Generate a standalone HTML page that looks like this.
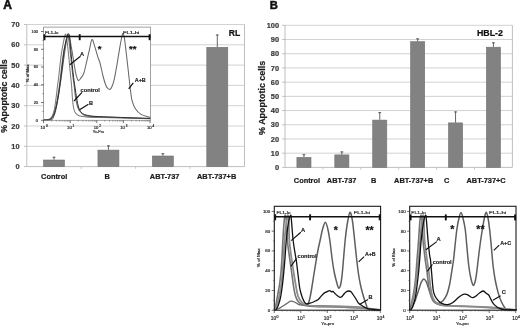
<!DOCTYPE html>
<html><head><meta charset="utf-8"><style>
html,body{margin:0;padding:0;background:#fff;}
body{width:520px;height:327px;overflow:hidden;}
svg{display:block;font-family:"Liberation Sans", sans-serif;will-change:transform;}
</style></head><body>
<svg width="520" height="327" viewBox="0 0 520 327">
<rect width="520" height="327" fill="#fff"/>
<text x="3.18" y="8.64" font-size="12.00" font-weight="bold" fill="#111" stroke="#111" stroke-width="0.55">A</text>
<text x="269.86" y="8.96" font-size="11.20" font-weight="bold" fill="#111" stroke="#111" stroke-width="0.5">B</text>
<line x1="24.00" y1="166.60" x2="26.80" y2="166.60" stroke="#b8b8b8" stroke-width="0.90"/>
<text x="15.39" y="169.25" font-size="7.40" font-weight="bold" fill="#3a3a3a" stroke="#3a3a3a" stroke-width="0.22">0</text>
<line x1="26.80" y1="146.30" x2="244.50" y2="146.30" stroke="#cdcdcd" stroke-width="0.90"/>
<line x1="24.00" y1="146.30" x2="26.80" y2="146.30" stroke="#b8b8b8" stroke-width="0.90"/>
<text x="11.28" y="148.95" font-size="7.40" font-weight="bold" fill="#3a3a3a" stroke="#3a3a3a" stroke-width="0.22">10</text>
<line x1="26.80" y1="126.00" x2="244.50" y2="126.00" stroke="#cdcdcd" stroke-width="0.90"/>
<line x1="24.00" y1="126.00" x2="26.80" y2="126.00" stroke="#b8b8b8" stroke-width="0.90"/>
<text x="11.28" y="128.65" font-size="7.40" font-weight="bold" fill="#3a3a3a" stroke="#3a3a3a" stroke-width="0.22">20</text>
<line x1="26.80" y1="105.70" x2="244.50" y2="105.70" stroke="#cdcdcd" stroke-width="0.90"/>
<line x1="24.00" y1="105.70" x2="26.80" y2="105.70" stroke="#b8b8b8" stroke-width="0.90"/>
<text x="11.28" y="108.35" font-size="7.40" font-weight="bold" fill="#3a3a3a" stroke="#3a3a3a" stroke-width="0.22">30</text>
<line x1="26.80" y1="85.40" x2="244.50" y2="85.40" stroke="#cdcdcd" stroke-width="0.90"/>
<line x1="24.00" y1="85.40" x2="26.80" y2="85.40" stroke="#b8b8b8" stroke-width="0.90"/>
<text x="11.28" y="88.05" font-size="7.40" font-weight="bold" fill="#3a3a3a" stroke="#3a3a3a" stroke-width="0.22">40</text>
<line x1="26.80" y1="65.10" x2="244.50" y2="65.10" stroke="#cdcdcd" stroke-width="0.90"/>
<line x1="24.00" y1="65.10" x2="26.80" y2="65.10" stroke="#b8b8b8" stroke-width="0.90"/>
<text x="11.28" y="67.75" font-size="7.40" font-weight="bold" fill="#3a3a3a" stroke="#3a3a3a" stroke-width="0.22">50</text>
<line x1="26.80" y1="44.80" x2="244.50" y2="44.80" stroke="#cdcdcd" stroke-width="0.90"/>
<line x1="24.00" y1="44.80" x2="26.80" y2="44.80" stroke="#b8b8b8" stroke-width="0.90"/>
<text x="11.28" y="47.45" font-size="7.40" font-weight="bold" fill="#3a3a3a" stroke="#3a3a3a" stroke-width="0.22">60</text>
<line x1="26.80" y1="24.50" x2="244.50" y2="24.50" stroke="#cdcdcd" stroke-width="0.90"/>
<line x1="24.00" y1="24.50" x2="26.80" y2="24.50" stroke="#b8b8b8" stroke-width="0.90"/>
<text x="11.28" y="27.15" font-size="7.40" font-weight="bold" fill="#3a3a3a" stroke="#3a3a3a" stroke-width="0.22">70</text>
<line x1="26.80" y1="24.50" x2="26.80" y2="166.60" stroke="#b8b8b8" stroke-width="0.90"/>
<line x1="244.50" y1="24.50" x2="244.50" y2="166.60" stroke="#b8b8b8" stroke-width="0.90"/>
<line x1="26.80" y1="166.60" x2="244.50" y2="166.60" stroke="#b8b8b8" stroke-width="0.90"/>
<line x1="81.22" y1="166.60" x2="81.22" y2="168.80" stroke="#b8b8b8" stroke-width="0.80"/>
<line x1="135.65" y1="166.60" x2="135.65" y2="168.80" stroke="#b8b8b8" stroke-width="0.80"/>
<line x1="190.07" y1="166.60" x2="190.07" y2="168.80" stroke="#b8b8b8" stroke-width="0.80"/>
<rect x="43.51" y="160.00" width="21.00" height="6.60" fill="#828282" stroke="#707070" stroke-width="0.6"/>
<line x1="54.01" y1="156.80" x2="54.01" y2="159.70" stroke="#555" stroke-width="0.90"/>
<line x1="52.61" y1="157.25" x2="55.41" y2="157.25" stroke="#555" stroke-width="1.00"/>
<rect x="97.94" y="150.10" width="21.00" height="16.50" fill="#828282" stroke="#707070" stroke-width="0.6"/>
<line x1="108.44" y1="145.40" x2="108.44" y2="149.80" stroke="#555" stroke-width="0.90"/>
<line x1="107.04" y1="145.85" x2="109.84" y2="145.85" stroke="#555" stroke-width="1.00"/>
<rect x="152.36" y="156.00" width="21.00" height="10.60" fill="#828282" stroke="#707070" stroke-width="0.6"/>
<line x1="162.86" y1="153.30" x2="162.86" y2="155.70" stroke="#555" stroke-width="0.90"/>
<line x1="161.46" y1="153.75" x2="164.26" y2="153.75" stroke="#555" stroke-width="1.00"/>
<rect x="206.79" y="47.30" width="21.00" height="119.30" fill="#828282" stroke="#707070" stroke-width="0.6"/>
<line x1="217.29" y1="34.60" x2="217.29" y2="47.00" stroke="#555" stroke-width="0.90"/>
<line x1="215.89" y1="35.05" x2="218.69" y2="35.05" stroke="#555" stroke-width="1.00"/>
<text x="41.06" y="178.65" font-size="7.40" font-weight="bold" fill="#1c1c1c" stroke="#1c1c1c" stroke-width="0.22">Control</text>
<text x="104.56" y="178.55" font-size="7.40" font-weight="bold" fill="#1c1c1c" stroke="#1c1c1c" stroke-width="0.22">B</text>
<text x="149.86" y="178.55" font-size="7.40" font-weight="bold" fill="#1c1c1c" stroke="#1c1c1c" stroke-width="0.22">ABT-737</text>
<text x="197.00" y="178.55" font-size="7.40" font-weight="bold" fill="#1c1c1c" stroke="#1c1c1c" stroke-width="0.22">ABT-737+B</text>
<text x="228.83" y="35.72" font-size="8.60" font-weight="bold" fill="#111" stroke="#111" stroke-width="0.22">RL</text>
<text transform="translate(6.88 132.79) rotate(-90)" font-size="8.85" font-weight="bold" fill="#1c1c1c" stroke="#1c1c1c" stroke-width="0.22">% Apoptotic cells</text>
<line x1="282.20" y1="167.40" x2="285.00" y2="167.40" stroke="#b8b8b8" stroke-width="0.90"/>
<text x="274.89" y="170.05" font-size="7.40" font-weight="bold" fill="#3a3a3a" stroke="#3a3a3a" stroke-width="0.22">0</text>
<line x1="285.00" y1="153.19" x2="512.40" y2="153.19" stroke="#cdcdcd" stroke-width="0.90"/>
<line x1="282.20" y1="153.19" x2="285.00" y2="153.19" stroke="#b8b8b8" stroke-width="0.90"/>
<text x="270.78" y="155.84" font-size="7.40" font-weight="bold" fill="#3a3a3a" stroke="#3a3a3a" stroke-width="0.22">10</text>
<line x1="285.00" y1="138.98" x2="512.40" y2="138.98" stroke="#cdcdcd" stroke-width="0.90"/>
<line x1="282.20" y1="138.98" x2="285.00" y2="138.98" stroke="#b8b8b8" stroke-width="0.90"/>
<text x="270.78" y="141.63" font-size="7.40" font-weight="bold" fill="#3a3a3a" stroke="#3a3a3a" stroke-width="0.22">20</text>
<line x1="285.00" y1="124.77" x2="512.40" y2="124.77" stroke="#cdcdcd" stroke-width="0.90"/>
<line x1="282.20" y1="124.77" x2="285.00" y2="124.77" stroke="#b8b8b8" stroke-width="0.90"/>
<text x="270.78" y="127.42" font-size="7.40" font-weight="bold" fill="#3a3a3a" stroke="#3a3a3a" stroke-width="0.22">30</text>
<line x1="285.00" y1="110.56" x2="512.40" y2="110.56" stroke="#cdcdcd" stroke-width="0.90"/>
<line x1="282.20" y1="110.56" x2="285.00" y2="110.56" stroke="#b8b8b8" stroke-width="0.90"/>
<text x="270.78" y="113.21" font-size="7.40" font-weight="bold" fill="#3a3a3a" stroke="#3a3a3a" stroke-width="0.22">40</text>
<line x1="285.00" y1="96.35" x2="512.40" y2="96.35" stroke="#cdcdcd" stroke-width="0.90"/>
<line x1="282.20" y1="96.35" x2="285.00" y2="96.35" stroke="#b8b8b8" stroke-width="0.90"/>
<text x="270.78" y="99.00" font-size="7.40" font-weight="bold" fill="#3a3a3a" stroke="#3a3a3a" stroke-width="0.22">50</text>
<line x1="285.00" y1="82.14" x2="512.40" y2="82.14" stroke="#cdcdcd" stroke-width="0.90"/>
<line x1="282.20" y1="82.14" x2="285.00" y2="82.14" stroke="#b8b8b8" stroke-width="0.90"/>
<text x="270.78" y="84.79" font-size="7.40" font-weight="bold" fill="#3a3a3a" stroke="#3a3a3a" stroke-width="0.22">60</text>
<line x1="285.00" y1="67.93" x2="512.40" y2="67.93" stroke="#cdcdcd" stroke-width="0.90"/>
<line x1="282.20" y1="67.93" x2="285.00" y2="67.93" stroke="#b8b8b8" stroke-width="0.90"/>
<text x="270.78" y="70.58" font-size="7.40" font-weight="bold" fill="#3a3a3a" stroke="#3a3a3a" stroke-width="0.22">70</text>
<line x1="285.00" y1="53.72" x2="512.40" y2="53.72" stroke="#cdcdcd" stroke-width="0.90"/>
<line x1="282.20" y1="53.72" x2="285.00" y2="53.72" stroke="#b8b8b8" stroke-width="0.90"/>
<text x="270.78" y="56.37" font-size="7.40" font-weight="bold" fill="#3a3a3a" stroke="#3a3a3a" stroke-width="0.22">80</text>
<line x1="285.00" y1="39.51" x2="512.40" y2="39.51" stroke="#cdcdcd" stroke-width="0.90"/>
<line x1="282.20" y1="39.51" x2="285.00" y2="39.51" stroke="#b8b8b8" stroke-width="0.90"/>
<text x="270.78" y="42.16" font-size="7.40" font-weight="bold" fill="#3a3a3a" stroke="#3a3a3a" stroke-width="0.22">90</text>
<line x1="285.00" y1="25.30" x2="512.40" y2="25.30" stroke="#cdcdcd" stroke-width="0.90"/>
<line x1="282.20" y1="25.30" x2="285.00" y2="25.30" stroke="#b8b8b8" stroke-width="0.90"/>
<text x="266.68" y="27.95" font-size="7.40" font-weight="bold" fill="#3a3a3a" stroke="#3a3a3a" stroke-width="0.22">100</text>
<line x1="285.00" y1="25.30" x2="285.00" y2="167.40" stroke="#b8b8b8" stroke-width="0.90"/>
<line x1="512.40" y1="25.30" x2="512.40" y2="167.40" stroke="#b8b8b8" stroke-width="0.90"/>
<line x1="285.00" y1="167.40" x2="512.40" y2="167.40" stroke="#b8b8b8" stroke-width="0.90"/>
<line x1="322.90" y1="167.40" x2="322.90" y2="169.60" stroke="#b8b8b8" stroke-width="0.80"/>
<line x1="360.80" y1="167.40" x2="360.80" y2="169.60" stroke="#b8b8b8" stroke-width="0.80"/>
<line x1="398.70" y1="167.40" x2="398.70" y2="169.60" stroke="#b8b8b8" stroke-width="0.80"/>
<line x1="436.60" y1="167.40" x2="436.60" y2="169.60" stroke="#b8b8b8" stroke-width="0.80"/>
<line x1="474.50" y1="167.40" x2="474.50" y2="169.60" stroke="#b8b8b8" stroke-width="0.80"/>
<rect x="296.90" y="157.40" width="14.10" height="10.00" fill="#828282" stroke="#707070" stroke-width="0.6"/>
<line x1="303.95" y1="154.30" x2="303.95" y2="157.10" stroke="#555" stroke-width="0.90"/>
<line x1="302.55" y1="154.75" x2="305.35" y2="154.75" stroke="#555" stroke-width="1.00"/>
<rect x="334.80" y="154.90" width="14.10" height="12.50" fill="#828282" stroke="#707070" stroke-width="0.6"/>
<line x1="341.85" y1="151.50" x2="341.85" y2="154.60" stroke="#555" stroke-width="0.90"/>
<line x1="340.45" y1="151.95" x2="343.25" y2="151.95" stroke="#555" stroke-width="1.00"/>
<rect x="372.70" y="120.10" width="14.10" height="47.30" fill="#828282" stroke="#707070" stroke-width="0.6"/>
<line x1="379.75" y1="112.20" x2="379.75" y2="119.80" stroke="#555" stroke-width="0.90"/>
<line x1="378.35" y1="112.65" x2="381.15" y2="112.65" stroke="#555" stroke-width="1.00"/>
<rect x="410.60" y="41.70" width="14.10" height="125.70" fill="#828282" stroke="#707070" stroke-width="0.6"/>
<line x1="417.65" y1="38.40" x2="417.65" y2="41.40" stroke="#555" stroke-width="0.90"/>
<line x1="416.25" y1="38.85" x2="419.05" y2="38.85" stroke="#555" stroke-width="1.00"/>
<rect x="448.50" y="122.90" width="14.10" height="44.50" fill="#828282" stroke="#707070" stroke-width="0.6"/>
<line x1="455.55" y1="111.50" x2="455.55" y2="122.60" stroke="#555" stroke-width="0.90"/>
<line x1="454.15" y1="111.95" x2="456.95" y2="111.95" stroke="#555" stroke-width="1.00"/>
<rect x="486.40" y="47.20" width="14.10" height="120.20" fill="#828282" stroke="#707070" stroke-width="0.6"/>
<line x1="493.45" y1="42.40" x2="493.45" y2="46.90" stroke="#555" stroke-width="0.90"/>
<line x1="492.05" y1="42.85" x2="494.85" y2="42.85" stroke="#555" stroke-width="1.00"/>
<text x="293.81" y="183.40" font-size="7.40" font-weight="bold" fill="#1c1c1c" stroke="#1c1c1c" stroke-width="0.22">Control</text>
<text x="326.86" y="183.30" font-size="7.40" font-weight="bold" fill="#1c1c1c" stroke="#1c1c1c" stroke-width="0.22">ABT-737</text>
<text x="371.06" y="183.30" font-size="7.40" font-weight="bold" fill="#1c1c1c" stroke="#1c1c1c" stroke-width="0.22">B</text>
<text x="394.05" y="183.30" font-size="7.40" font-weight="bold" fill="#1c1c1c" stroke="#1c1c1c" stroke-width="0.22">ABT-737+B</text>
<text x="443.88" y="183.30" font-size="7.40" font-weight="bold" fill="#1c1c1c" stroke="#1c1c1c" stroke-width="0.22">C</text>
<text x="466.47" y="183.30" font-size="7.40" font-weight="bold" fill="#1c1c1c" stroke="#1c1c1c" stroke-width="0.22">ABT-737+C</text>
<text x="477.03" y="35.88" font-size="8.80" font-weight="bold" fill="#111" stroke="#111" stroke-width="0.22">HBL-2</text>
<text transform="translate(264.90 134.95) rotate(-90)" font-size="8.95" font-weight="bold" fill="#1c1c1c" stroke="#1c1c1c" stroke-width="0.22">% Apoptotic cells</text>
<rect x="274.30" y="206.30" width="106.30" height="103.90" fill="#fff"/>
<path d="M275.50 309.60 C276.18 309.37 278.35 308.80 279.60 308.20 C280.85 307.60 281.88 306.72 283.00 306.00 C284.12 305.28 285.02 304.72 286.30 303.90 C287.58 303.08 289.23 301.37 290.70 301.10 C292.17 300.83 293.83 301.77 295.10 302.30 C296.37 302.83 297.15 303.83 298.30 304.30 C299.45 304.77 300.05 304.88 302.00 305.10 C303.95 305.32 306.17 305.48 310.00 305.60 C313.83 305.72 320.00 305.67 325.00 305.80 C330.00 305.93 335.00 306.17 340.00 306.40 C345.00 306.63 350.83 306.93 355.00 307.20 C359.17 307.47 362.17 307.63 365.00 308.00 C367.83 308.37 369.50 309.10 372.00 309.40 C374.50 309.70 378.67 309.73 380.00 309.80" fill="none" stroke="#6a6a6a" stroke-width="1.30" stroke-linejoin="round" stroke-linecap="round"/>
<path d="M305.00 305.00 C305.47 304.87 307.03 305.12 307.80 304.20 C308.57 303.28 308.97 302.03 309.60 299.50 C310.23 296.97 310.90 293.08 311.60 289.00 C312.30 284.92 313.02 279.90 313.80 275.00 C314.58 270.10 315.57 263.93 316.30 259.60 C317.03 255.27 317.55 252.27 318.20 249.00 C318.85 245.73 319.47 243.33 320.20 240.00 C320.93 236.67 321.75 231.97 322.60 229.00 C323.45 226.03 324.47 222.37 325.30 222.20 C326.13 222.03 326.85 225.03 327.60 228.00 C328.35 230.97 329.07 235.00 329.80 240.00 C330.53 245.00 331.27 252.67 332.00 258.00 C332.73 263.33 333.43 268.00 334.20 272.00 C334.97 276.00 335.83 279.30 336.60 282.00 C337.37 284.70 338.08 287.95 338.80 288.20 C339.52 288.45 340.30 286.20 340.90 283.50 C341.50 280.80 341.95 276.25 342.40 272.00 C342.85 267.75 343.10 263.67 343.60 258.00 C344.10 252.33 344.73 244.00 345.40 238.00 C346.07 232.00 346.83 226.28 347.60 222.00 C348.37 217.72 349.22 212.63 350.00 212.30 C350.78 211.97 351.60 216.05 352.30 220.00 C353.00 223.95 353.52 229.83 354.20 236.00 C354.88 242.17 355.68 250.67 356.40 257.00 C357.12 263.33 357.82 269.33 358.50 274.00 C359.18 278.67 359.83 281.83 360.50 285.00 C361.17 288.17 361.82 290.50 362.50 293.00 C363.18 295.50 363.93 297.92 364.60 300.00 C365.27 302.08 365.85 304.00 366.50 305.50 C367.15 307.00 366.25 308.27 368.50 309.00 C370.75 309.73 378.08 309.75 380.00 309.90" fill="none" stroke="#5e5e5e" stroke-width="1.50" stroke-linejoin="round" stroke-linecap="round"/>
<path d="M274.60 309.60 C274.73 309.25 275.03 309.10 275.40 307.50 C275.77 305.90 276.33 302.58 276.80 300.00 C277.27 297.42 277.73 294.67 278.20 292.00 C278.67 289.33 279.13 287.33 279.60 284.00 C280.07 280.67 280.60 276.33 281.00 272.00 C281.40 267.67 281.68 263.33 282.00 258.00 C282.32 252.67 282.55 246.00 282.90 240.00 C283.25 234.00 283.72 226.13 284.10 222.00 C284.48 217.87 284.83 215.53 285.20 215.20 C285.57 214.87 285.95 215.87 286.30 220.00 C286.65 224.13 286.75 233.67 287.30 240.00 C287.85 246.33 288.88 252.67 289.60 258.00 C290.32 263.33 290.95 267.33 291.60 272.00 C292.25 276.67 292.85 282.00 293.50 286.00 C294.15 290.00 294.67 293.33 295.50 296.00 C296.33 298.67 297.25 300.50 298.50 302.00 C299.75 303.50 301.08 304.28 303.00 305.00 C304.92 305.72 306.33 306.00 310.00 306.30 C313.67 306.60 319.17 306.63 325.00 306.80 C330.83 306.97 339.17 307.12 345.00 307.30 C350.83 307.48 355.83 307.62 360.00 307.90 C364.17 308.18 366.67 308.68 370.00 309.00 C373.33 309.32 378.33 309.67 380.00 309.80" fill="none" stroke="#747474" stroke-width="1.60" stroke-linejoin="round" stroke-linecap="round"/>
<path d="M275.20 309.60 C275.40 309.00 275.87 307.60 276.40 306.00 C276.93 304.40 277.80 302.33 278.40 300.00 C279.00 297.67 279.52 294.67 280.00 292.00 C280.48 289.33 280.87 287.33 281.30 284.00 C281.73 280.67 282.22 276.33 282.60 272.00 C282.98 267.67 283.28 263.33 283.60 258.00 C283.92 252.67 284.02 246.00 284.50 240.00 C284.98 234.00 285.95 226.13 286.50 222.00 C287.05 217.87 287.42 215.53 287.80 215.20 C288.18 214.87 288.55 215.87 288.80 220.00 C289.05 224.13 288.85 233.67 289.30 240.00 C289.75 246.33 290.78 252.67 291.50 258.00 C292.22 263.33 292.87 267.33 293.60 272.00 C294.33 276.67 295.17 282.00 295.90 286.00 C296.63 290.00 297.07 293.33 298.00 296.00 C298.93 298.67 300.17 300.50 301.50 302.00 C302.83 303.50 303.75 304.33 306.00 305.00 C308.25 305.67 310.17 305.77 315.00 306.00 C319.83 306.23 328.33 306.23 335.00 306.40 C341.67 306.57 349.50 306.67 355.00 307.00 C360.50 307.33 363.83 307.93 368.00 308.40 C372.17 308.87 378.00 309.57 380.00 309.80" fill="none" stroke="#8c8c8c" stroke-width="1.80" stroke-linejoin="round" stroke-linecap="round"/>
<path d="M276.00 309.60 C276.33 309.00 277.27 307.93 278.00 306.00 C278.73 304.07 279.68 301.33 280.40 298.00 C281.12 294.67 281.73 290.33 282.30 286.00 C282.87 281.67 283.35 276.67 283.80 272.00 C284.25 267.33 284.58 263.33 285.00 258.00 C285.42 252.67 285.70 246.00 286.30 240.00 C286.90 234.00 287.87 226.13 288.60 222.00 C289.33 217.87 290.23 215.53 290.70 215.20 C291.17 214.87 291.00 215.87 291.40 220.00 C291.80 224.13 292.42 234.00 293.10 240.00 C293.78 246.00 294.93 252.33 295.50 256.00 C296.07 259.67 296.05 258.67 296.50 262.00 C296.95 265.33 297.72 272.00 298.20 276.00 C298.68 280.00 299.00 283.33 299.40 286.00 C299.80 288.67 300.08 290.00 300.60 292.00 C301.12 294.00 301.83 296.27 302.50 298.00 C303.17 299.73 303.92 301.43 304.60 302.40 C305.28 303.37 305.70 303.68 306.60 303.80 C307.50 303.92 308.88 303.40 310.00 303.10 C311.12 302.80 312.30 302.38 313.30 302.00 C314.30 301.62 315.13 301.27 316.00 300.80 C316.87 300.33 317.67 299.93 318.50 299.20 C319.33 298.47 320.13 297.37 321.00 296.40 C321.87 295.43 322.87 294.10 323.70 293.40 C324.53 292.70 325.35 292.53 326.00 292.20 C326.65 291.87 326.97 291.65 327.60 291.40 C328.23 291.15 329.15 290.63 329.80 290.70 C330.45 290.77 330.97 291.68 331.50 291.80 C332.03 291.92 332.42 291.12 333.00 291.40 C333.58 291.68 334.25 292.77 335.00 293.50 C335.75 294.23 336.65 295.15 337.50 295.80 C338.35 296.45 339.35 297.28 340.10 297.40 C340.85 297.52 341.35 297.07 342.00 296.50 C342.65 295.93 343.33 294.75 344.00 294.00 C344.67 293.25 345.20 292.50 346.00 292.00 C346.80 291.50 347.97 291.03 348.80 291.00 C349.63 290.97 350.30 291.22 351.00 291.80 C351.70 292.38 352.22 293.38 353.00 294.50 C353.78 295.62 354.82 297.12 355.70 298.50 C356.58 299.88 357.42 301.72 358.30 302.80 C359.18 303.88 359.98 304.28 361.00 305.00 C362.02 305.72 363.12 306.45 364.40 307.10 C365.68 307.75 366.93 308.48 368.70 308.90 C370.47 309.32 373.12 309.45 375.00 309.60 C376.88 309.75 379.17 309.77 380.00 309.80" fill="none" stroke="#111" stroke-width="1.30" stroke-linejoin="round" stroke-linecap="round"/>
<rect x="274.30" y="206.30" width="106.30" height="103.90" fill="none" stroke="#1a1a1a" stroke-width="1.10"/>
<line x1="271.70" y1="310.20" x2="274.30" y2="310.20" stroke="#333" stroke-width="0.70"/>
<text stroke="#2e2e2e" stroke-width="0.20" x="267.81" y="311.72" font-size="4.40" fill="#2e2e2e">0</text>
<line x1="271.70" y1="290.44" x2="274.30" y2="290.44" stroke="#333" stroke-width="0.70"/>
<text stroke="#2e2e2e" stroke-width="0.20" x="265.37" y="291.96" font-size="4.40" fill="#2e2e2e">20</text>
<line x1="271.70" y1="270.68" x2="274.30" y2="270.68" stroke="#333" stroke-width="0.70"/>
<text stroke="#2e2e2e" stroke-width="0.20" x="265.37" y="272.20" font-size="4.40" fill="#2e2e2e">40</text>
<line x1="271.70" y1="250.92" x2="274.30" y2="250.92" stroke="#333" stroke-width="0.70"/>
<text stroke="#2e2e2e" stroke-width="0.20" x="265.37" y="252.44" font-size="4.40" fill="#2e2e2e">60</text>
<line x1="271.70" y1="231.16" x2="274.30" y2="231.16" stroke="#333" stroke-width="0.70"/>
<text stroke="#2e2e2e" stroke-width="0.20" x="265.37" y="232.68" font-size="4.40" fill="#2e2e2e">80</text>
<line x1="271.70" y1="211.40" x2="274.30" y2="211.40" stroke="#333" stroke-width="0.70"/>
<text stroke="#2e2e2e" stroke-width="0.20" x="262.93" y="212.92" font-size="4.40" fill="#2e2e2e">100</text>
<line x1="272.90" y1="300.32" x2="274.30" y2="300.32" stroke="#444" stroke-width="0.50"/>
<line x1="272.90" y1="280.56" x2="274.30" y2="280.56" stroke="#444" stroke-width="0.50"/>
<line x1="272.90" y1="260.80" x2="274.30" y2="260.80" stroke="#444" stroke-width="0.50"/>
<line x1="272.90" y1="241.04" x2="274.30" y2="241.04" stroke="#444" stroke-width="0.50"/>
<line x1="272.90" y1="221.28" x2="274.30" y2="221.28" stroke="#444" stroke-width="0.50"/>
<line x1="274.30" y1="310.20" x2="274.30" y2="313.00" stroke="#333" stroke-width="0.70"/>
<text stroke="#2e2e2e" stroke-width="0.20" x="270.82" y="320.37" font-size="4.84" fill="#2e2e2e">10</text>
<text stroke="#2e2e2e" stroke-width="0.20" x="276.52" y="318.20" font-size="3.48" fill="#2e2e2e">0</text>
<line x1="282.28" y1="310.20" x2="282.28" y2="311.60" stroke="#444" stroke-width="0.45"/>
<line x1="286.94" y1="310.20" x2="286.94" y2="311.60" stroke="#444" stroke-width="0.45"/>
<line x1="290.25" y1="310.20" x2="290.25" y2="311.60" stroke="#444" stroke-width="0.45"/>
<line x1="292.82" y1="310.20" x2="292.82" y2="311.60" stroke="#444" stroke-width="0.45"/>
<line x1="294.92" y1="310.20" x2="294.92" y2="311.60" stroke="#444" stroke-width="0.45"/>
<line x1="296.70" y1="310.20" x2="296.70" y2="311.60" stroke="#444" stroke-width="0.45"/>
<line x1="298.23" y1="310.20" x2="298.23" y2="311.60" stroke="#444" stroke-width="0.45"/>
<line x1="299.59" y1="310.20" x2="299.59" y2="311.60" stroke="#444" stroke-width="0.45"/>
<line x1="300.80" y1="310.20" x2="300.80" y2="313.00" stroke="#333" stroke-width="0.70"/>
<text stroke="#2e2e2e" stroke-width="0.20" x="297.32" y="320.37" font-size="4.84" fill="#2e2e2e">10</text>
<text stroke="#2e2e2e" stroke-width="0.20" x="302.98" y="318.20" font-size="3.48" fill="#2e2e2e">1</text>
<line x1="308.78" y1="310.20" x2="308.78" y2="311.60" stroke="#444" stroke-width="0.45"/>
<line x1="313.44" y1="310.20" x2="313.44" y2="311.60" stroke="#444" stroke-width="0.45"/>
<line x1="316.75" y1="310.20" x2="316.75" y2="311.60" stroke="#444" stroke-width="0.45"/>
<line x1="319.32" y1="310.20" x2="319.32" y2="311.60" stroke="#444" stroke-width="0.45"/>
<line x1="321.42" y1="310.20" x2="321.42" y2="311.60" stroke="#444" stroke-width="0.45"/>
<line x1="323.20" y1="310.20" x2="323.20" y2="311.60" stroke="#444" stroke-width="0.45"/>
<line x1="324.73" y1="310.20" x2="324.73" y2="311.60" stroke="#444" stroke-width="0.45"/>
<line x1="326.09" y1="310.20" x2="326.09" y2="311.60" stroke="#444" stroke-width="0.45"/>
<line x1="327.30" y1="310.20" x2="327.30" y2="313.00" stroke="#333" stroke-width="0.70"/>
<text stroke="#2e2e2e" stroke-width="0.20" x="323.82" y="320.37" font-size="4.84" fill="#2e2e2e">10</text>
<text stroke="#2e2e2e" stroke-width="0.20" x="329.53" y="318.22" font-size="3.48" fill="#2e2e2e">2</text>
<line x1="335.28" y1="310.20" x2="335.28" y2="311.60" stroke="#444" stroke-width="0.45"/>
<line x1="339.94" y1="310.20" x2="339.94" y2="311.60" stroke="#444" stroke-width="0.45"/>
<line x1="343.25" y1="310.20" x2="343.25" y2="311.60" stroke="#444" stroke-width="0.45"/>
<line x1="345.82" y1="310.20" x2="345.82" y2="311.60" stroke="#444" stroke-width="0.45"/>
<line x1="347.92" y1="310.20" x2="347.92" y2="311.60" stroke="#444" stroke-width="0.45"/>
<line x1="349.70" y1="310.20" x2="349.70" y2="311.60" stroke="#444" stroke-width="0.45"/>
<line x1="351.23" y1="310.20" x2="351.23" y2="311.60" stroke="#444" stroke-width="0.45"/>
<line x1="352.59" y1="310.20" x2="352.59" y2="311.60" stroke="#444" stroke-width="0.45"/>
<line x1="353.80" y1="310.20" x2="353.80" y2="313.00" stroke="#333" stroke-width="0.70"/>
<text stroke="#2e2e2e" stroke-width="0.20" x="350.32" y="320.37" font-size="4.84" fill="#2e2e2e">10</text>
<text stroke="#2e2e2e" stroke-width="0.20" x="356.03" y="318.20" font-size="3.48" fill="#2e2e2e">3</text>
<line x1="361.78" y1="310.20" x2="361.78" y2="311.60" stroke="#444" stroke-width="0.45"/>
<line x1="366.44" y1="310.20" x2="366.44" y2="311.60" stroke="#444" stroke-width="0.45"/>
<line x1="369.75" y1="310.20" x2="369.75" y2="311.60" stroke="#444" stroke-width="0.45"/>
<line x1="372.32" y1="310.20" x2="372.32" y2="311.60" stroke="#444" stroke-width="0.45"/>
<line x1="374.42" y1="310.20" x2="374.42" y2="311.60" stroke="#444" stroke-width="0.45"/>
<line x1="376.20" y1="310.20" x2="376.20" y2="311.60" stroke="#444" stroke-width="0.45"/>
<line x1="377.73" y1="310.20" x2="377.73" y2="311.60" stroke="#444" stroke-width="0.45"/>
<line x1="379.09" y1="310.20" x2="379.09" y2="311.60" stroke="#444" stroke-width="0.45"/>
<line x1="380.30" y1="310.20" x2="380.30" y2="313.00" stroke="#333" stroke-width="0.70"/>
<text stroke="#2e2e2e" stroke-width="0.20" x="376.82" y="320.37" font-size="4.84" fill="#2e2e2e">10</text>
<text stroke="#2e2e2e" stroke-width="0.20" x="382.55" y="318.20" font-size="3.48" fill="#2e2e2e">4</text>
<text stroke="#2e2e2e" stroke-width="0.20" x="321.33" y="325.36" font-size="4.40" fill="#2e2e2e">Yo-pro</text>
<text stroke="#2e2e2e" stroke-width="0.20" transform="translate(260.27 267.36) rotate(-90)" font-size="4.40" fill="#2e2e2e" textLength="19.00" lengthAdjust="spacingAndGlyphs">% of Max</text>
<line x1="274.30" y1="216.70" x2="380.60" y2="216.70" stroke="#111" stroke-width="1.50"/>
<line x1="275.20" y1="214.30" x2="275.20" y2="220.30" stroke="#111" stroke-width="1.90"/>
<line x1="310.10" y1="214.30" x2="310.10" y2="220.30" stroke="#111" stroke-width="1.90"/>
<line x1="379.70" y1="214.30" x2="379.70" y2="220.30" stroke="#111" stroke-width="1.90"/>
<text stroke="#2e2e2e" stroke-width="0.20" x="276.40" y="213.77" font-size="4.40" fill="#2e2e2e" textLength="14.20" lengthAdjust="spacingAndGlyphs">FL1-lo</text>
<text stroke="#2e2e2e" stroke-width="0.20" x="353.84" y="213.90" font-size="4.40" fill="#2e2e2e" textLength="16.26" lengthAdjust="spacingAndGlyphs">FL1-hi</text>
<text x="301.01" y="231.80" font-size="5.80" font-weight="bold" fill="#222" stroke="#222" stroke-width="0.17">A</text>
<line x1="300.80" y1="232.20" x2="291.20" y2="240.60" stroke="#111" stroke-width="1.15"/>
<text x="297.59" y="258.00" font-size="5.60" font-weight="bold" fill="#222" stroke="#222" stroke-width="0.17">control</text>
<line x1="296.60" y1="258.40" x2="290.80" y2="266.40" stroke="#111" stroke-width="1.15"/>
<text x="364.89" y="256.23" font-size="5.30" font-weight="bold" fill="#222" stroke="#222" stroke-width="0.16">A+B</text>
<line x1="364.20" y1="256.60" x2="358.60" y2="261.80" stroke="#111" stroke-width="1.15"/>
<text x="368.53" y="298.73" font-size="5.60" font-weight="bold" fill="#222" stroke="#222" stroke-width="0.17">B</text>
<line x1="368.00" y1="299.40" x2="359.40" y2="304.60" stroke="#111" stroke-width="1.15"/>
<text x="333.65" y="233.90" font-size="10.50" font-weight="bold" fill="#111" stroke="#111" stroke-width="0.22">*</text>
<text x="365.40" y="233.70" font-size="10.50" font-weight="bold" fill="#111" stroke="#111" stroke-width="0.22">**</text>
<rect x="409.70" y="206.30" width="106.30" height="103.90" fill="#fff"/>
<path d="M410.00 309.60 C410.30 309.28 411.23 308.55 411.80 307.70 C412.37 306.85 412.88 305.57 413.40 304.50 C413.92 303.43 414.38 302.63 414.90 301.30 C415.42 299.97 415.97 298.08 416.50 296.50 C417.03 294.92 417.55 293.47 418.10 291.80 C418.65 290.13 419.27 288.10 419.80 286.50 C420.33 284.90 420.65 283.43 421.30 282.20 C421.95 280.97 422.90 279.23 423.70 279.10 C424.50 278.97 425.45 280.33 426.10 281.40 C426.75 282.47 427.08 284.03 427.60 285.50 C428.12 286.97 428.67 288.72 429.20 290.20 C429.73 291.68 430.27 293.08 430.80 294.40 C431.33 295.72 431.80 296.97 432.40 298.10 C433.00 299.23 433.73 300.35 434.40 301.20 C435.07 302.05 435.55 302.90 436.40 303.20 C437.25 303.50 438.40 303.40 439.50 303.00 C440.60 302.60 441.77 302.23 443.00 300.80 C444.23 299.37 445.82 297.03 446.90 294.40 C447.98 291.77 448.73 288.57 449.50 285.00 C450.27 281.43 450.83 277.17 451.50 273.00 C452.17 268.83 452.88 264.83 453.50 260.00 C454.12 255.17 454.65 249.00 455.20 244.00 C455.75 239.00 456.20 234.17 456.80 230.00 C457.40 225.83 458.10 221.90 458.80 219.00 C459.50 216.10 460.27 212.60 461.00 212.60 C461.73 212.60 462.48 216.10 463.20 219.00 C463.92 221.90 464.67 225.17 465.30 230.00 C465.93 234.83 466.42 242.00 467.00 248.00 C467.58 254.00 468.17 261.00 468.80 266.00 C469.43 271.00 470.05 274.77 470.80 278.00 C471.55 281.23 472.52 285.07 473.30 285.40 C474.08 285.73 474.88 282.57 475.50 280.00 C476.12 277.43 476.52 273.67 477.00 270.00 C477.48 266.33 477.85 262.50 478.40 258.00 C478.95 253.50 479.60 248.00 480.30 243.00 C481.00 238.00 481.88 232.33 482.60 228.00 C483.32 223.67 483.97 219.60 484.60 217.00 C485.23 214.40 485.80 212.07 486.40 212.40 C487.00 212.73 487.63 215.90 488.20 219.00 C488.77 222.10 489.28 226.50 489.80 231.00 C490.32 235.50 490.77 240.33 491.30 246.00 C491.83 251.67 492.35 259.33 493.00 265.00 C493.65 270.67 494.30 275.23 495.20 280.00 C496.10 284.77 497.35 289.93 498.40 293.60 C499.45 297.27 500.40 299.62 501.50 302.00 C502.60 304.38 503.92 306.63 505.00 307.90 C506.08 309.17 506.17 309.27 508.00 309.60 C509.83 309.93 514.67 309.85 516.00 309.90" fill="none" stroke="#5e5e5e" stroke-width="1.50" stroke-linejoin="round" stroke-linecap="round"/>
<path d="M410.00 309.60 C410.10 309.25 410.30 308.77 410.60 307.50 C410.90 306.23 411.40 303.92 411.80 302.00 C412.20 300.08 412.57 298.33 413.00 296.00 C413.43 293.67 413.93 291.33 414.40 288.00 C414.87 284.67 415.37 280.67 415.80 276.00 C416.23 271.33 416.53 266.00 417.00 260.00 C417.47 254.00 418.13 246.33 418.60 240.00 C419.07 233.67 419.43 226.13 419.80 222.00 C420.17 217.87 420.47 215.53 420.80 215.20 C421.13 214.87 421.43 215.87 421.80 220.00 C422.17 224.13 422.47 233.67 423.00 240.00 C423.53 246.33 424.33 252.67 425.00 258.00 C425.67 263.33 426.33 267.00 427.00 272.00 C427.67 277.00 428.30 283.83 429.00 288.00 C429.70 292.17 430.28 294.58 431.20 297.00 C432.12 299.42 433.03 301.17 434.50 302.50 C435.97 303.83 437.42 304.45 440.00 305.00 C442.58 305.55 445.83 305.60 450.00 305.80 C454.17 306.00 460.00 306.00 465.00 306.20 C470.00 306.40 475.00 306.70 480.00 307.00 C485.00 307.30 490.83 307.63 495.00 308.00 C499.17 308.37 501.50 308.90 505.00 309.20 C508.50 309.50 514.17 309.70 516.00 309.80" fill="none" stroke="#747474" stroke-width="1.60" stroke-linejoin="round" stroke-linecap="round"/>
<path d="M410.40 309.60 C410.57 309.08 410.97 308.10 411.40 306.50 C411.83 304.90 412.47 302.42 413.00 300.00 C413.53 297.58 414.10 295.00 414.60 292.00 C415.10 289.00 415.53 285.67 416.00 282.00 C416.47 278.33 416.93 274.00 417.40 270.00 C417.87 266.00 418.33 263.00 418.80 258.00 C419.27 253.00 419.70 246.00 420.20 240.00 C420.70 234.00 421.33 226.13 421.80 222.00 C422.27 217.87 422.67 215.53 423.00 215.20 C423.33 214.87 423.53 215.87 423.80 220.00 C424.07 224.13 424.10 233.67 424.60 240.00 C425.10 246.33 426.10 252.67 426.80 258.00 C427.50 263.33 428.17 267.00 428.80 272.00 C429.43 277.00 429.97 283.83 430.60 288.00 C431.23 292.17 431.70 294.58 432.60 297.00 C433.50 299.42 434.43 301.13 436.00 302.50 C437.57 303.87 438.83 304.62 442.00 305.20 C445.17 305.78 449.50 305.77 455.00 306.00 C460.50 306.23 468.33 306.33 475.00 306.60 C481.67 306.87 490.00 307.23 495.00 307.60 C500.00 307.97 501.50 308.43 505.00 308.80 C508.50 309.17 514.17 309.63 516.00 309.80" fill="none" stroke="#8c8c8c" stroke-width="1.80" stroke-linejoin="round" stroke-linecap="round"/>
<path d="M411.00 309.60 C411.33 309.00 412.30 307.93 413.00 306.00 C413.70 304.07 414.53 301.33 415.20 298.00 C415.87 294.67 416.43 290.33 417.00 286.00 C417.57 281.67 418.13 276.67 418.60 272.00 C419.07 267.33 419.37 263.33 419.80 258.00 C420.23 252.67 420.57 246.00 421.20 240.00 C421.83 234.00 422.87 226.13 423.60 222.00 C424.33 217.87 425.13 215.53 425.60 215.20 C426.07 214.87 426.00 215.87 426.40 220.00 C426.80 224.13 427.47 234.17 428.00 240.00 C428.53 245.83 429.18 251.67 429.60 255.00 C430.02 258.33 430.13 256.67 430.50 260.00 C430.87 263.33 431.35 270.00 431.80 275.00 C432.25 280.00 432.67 286.50 433.20 290.00 C433.73 293.50 434.22 294.30 435.00 296.00 C435.78 297.70 436.78 298.97 437.90 300.20 C439.02 301.43 440.10 302.65 441.70 303.40 C443.30 304.15 445.68 304.80 447.50 304.70 C449.32 304.60 450.78 303.98 452.60 302.80 C454.42 301.62 456.83 298.90 458.40 297.60 C459.97 296.30 460.98 295.57 462.00 295.00 C463.02 294.43 463.60 294.27 464.50 294.20 C465.40 294.13 466.40 294.17 467.40 294.60 C468.40 295.03 469.57 296.30 470.50 296.80 C471.43 297.30 472.08 297.73 473.00 297.60 C473.92 297.47 474.92 296.77 476.00 296.00 C477.08 295.23 478.30 293.83 479.50 293.00 C480.70 292.17 482.28 291.13 483.20 291.00 C484.12 290.87 484.47 291.80 485.00 292.20 C485.53 292.60 485.78 292.93 486.40 293.40 C487.02 293.87 488.02 294.15 488.70 295.00 C489.38 295.85 489.92 297.37 490.50 298.50 C491.08 299.63 491.53 300.73 492.20 301.80 C492.87 302.87 493.70 304.03 494.50 304.90 C495.30 305.77 496.17 306.43 497.00 307.00 C497.83 307.57 498.27 307.87 499.50 308.30 C500.73 308.73 501.65 309.33 504.40 309.60 C507.15 309.87 514.07 309.85 516.00 309.90" fill="none" stroke="#111" stroke-width="1.30" stroke-linejoin="round" stroke-linecap="round"/>
<rect x="409.70" y="206.30" width="106.30" height="103.90" fill="none" stroke="#1a1a1a" stroke-width="1.10"/>
<line x1="407.10" y1="310.20" x2="409.70" y2="310.20" stroke="#333" stroke-width="0.70"/>
<text stroke="#2e2e2e" stroke-width="0.20" x="403.21" y="311.72" font-size="4.40" fill="#2e2e2e">0</text>
<line x1="407.10" y1="290.44" x2="409.70" y2="290.44" stroke="#333" stroke-width="0.70"/>
<text stroke="#2e2e2e" stroke-width="0.20" x="400.77" y="291.96" font-size="4.40" fill="#2e2e2e">20</text>
<line x1="407.10" y1="270.68" x2="409.70" y2="270.68" stroke="#333" stroke-width="0.70"/>
<text stroke="#2e2e2e" stroke-width="0.20" x="400.77" y="272.20" font-size="4.40" fill="#2e2e2e">40</text>
<line x1="407.10" y1="250.92" x2="409.70" y2="250.92" stroke="#333" stroke-width="0.70"/>
<text stroke="#2e2e2e" stroke-width="0.20" x="400.77" y="252.44" font-size="4.40" fill="#2e2e2e">60</text>
<line x1="407.10" y1="231.16" x2="409.70" y2="231.16" stroke="#333" stroke-width="0.70"/>
<text stroke="#2e2e2e" stroke-width="0.20" x="400.77" y="232.68" font-size="4.40" fill="#2e2e2e">80</text>
<line x1="407.10" y1="211.40" x2="409.70" y2="211.40" stroke="#333" stroke-width="0.70"/>
<text stroke="#2e2e2e" stroke-width="0.20" x="398.33" y="212.92" font-size="4.40" fill="#2e2e2e">100</text>
<line x1="408.30" y1="300.32" x2="409.70" y2="300.32" stroke="#444" stroke-width="0.50"/>
<line x1="408.30" y1="280.56" x2="409.70" y2="280.56" stroke="#444" stroke-width="0.50"/>
<line x1="408.30" y1="260.80" x2="409.70" y2="260.80" stroke="#444" stroke-width="0.50"/>
<line x1="408.30" y1="241.04" x2="409.70" y2="241.04" stroke="#444" stroke-width="0.50"/>
<line x1="408.30" y1="221.28" x2="409.70" y2="221.28" stroke="#444" stroke-width="0.50"/>
<line x1="409.70" y1="310.20" x2="409.70" y2="313.00" stroke="#333" stroke-width="0.70"/>
<text stroke="#2e2e2e" stroke-width="0.20" x="406.22" y="320.37" font-size="4.84" fill="#2e2e2e">10</text>
<text stroke="#2e2e2e" stroke-width="0.20" x="411.92" y="318.20" font-size="3.48" fill="#2e2e2e">0</text>
<line x1="417.68" y1="310.20" x2="417.68" y2="311.60" stroke="#444" stroke-width="0.45"/>
<line x1="422.34" y1="310.20" x2="422.34" y2="311.60" stroke="#444" stroke-width="0.45"/>
<line x1="425.65" y1="310.20" x2="425.65" y2="311.60" stroke="#444" stroke-width="0.45"/>
<line x1="428.22" y1="310.20" x2="428.22" y2="311.60" stroke="#444" stroke-width="0.45"/>
<line x1="430.32" y1="310.20" x2="430.32" y2="311.60" stroke="#444" stroke-width="0.45"/>
<line x1="432.10" y1="310.20" x2="432.10" y2="311.60" stroke="#444" stroke-width="0.45"/>
<line x1="433.63" y1="310.20" x2="433.63" y2="311.60" stroke="#444" stroke-width="0.45"/>
<line x1="434.99" y1="310.20" x2="434.99" y2="311.60" stroke="#444" stroke-width="0.45"/>
<line x1="436.20" y1="310.20" x2="436.20" y2="313.00" stroke="#333" stroke-width="0.70"/>
<text stroke="#2e2e2e" stroke-width="0.20" x="432.72" y="320.37" font-size="4.84" fill="#2e2e2e">10</text>
<text stroke="#2e2e2e" stroke-width="0.20" x="438.38" y="318.20" font-size="3.48" fill="#2e2e2e">1</text>
<line x1="444.18" y1="310.20" x2="444.18" y2="311.60" stroke="#444" stroke-width="0.45"/>
<line x1="448.84" y1="310.20" x2="448.84" y2="311.60" stroke="#444" stroke-width="0.45"/>
<line x1="452.15" y1="310.20" x2="452.15" y2="311.60" stroke="#444" stroke-width="0.45"/>
<line x1="454.72" y1="310.20" x2="454.72" y2="311.60" stroke="#444" stroke-width="0.45"/>
<line x1="456.82" y1="310.20" x2="456.82" y2="311.60" stroke="#444" stroke-width="0.45"/>
<line x1="458.60" y1="310.20" x2="458.60" y2="311.60" stroke="#444" stroke-width="0.45"/>
<line x1="460.13" y1="310.20" x2="460.13" y2="311.60" stroke="#444" stroke-width="0.45"/>
<line x1="461.49" y1="310.20" x2="461.49" y2="311.60" stroke="#444" stroke-width="0.45"/>
<line x1="462.70" y1="310.20" x2="462.70" y2="313.00" stroke="#333" stroke-width="0.70"/>
<text stroke="#2e2e2e" stroke-width="0.20" x="459.22" y="320.37" font-size="4.84" fill="#2e2e2e">10</text>
<text stroke="#2e2e2e" stroke-width="0.20" x="464.93" y="318.22" font-size="3.48" fill="#2e2e2e">2</text>
<line x1="470.68" y1="310.20" x2="470.68" y2="311.60" stroke="#444" stroke-width="0.45"/>
<line x1="475.34" y1="310.20" x2="475.34" y2="311.60" stroke="#444" stroke-width="0.45"/>
<line x1="478.65" y1="310.20" x2="478.65" y2="311.60" stroke="#444" stroke-width="0.45"/>
<line x1="481.22" y1="310.20" x2="481.22" y2="311.60" stroke="#444" stroke-width="0.45"/>
<line x1="483.32" y1="310.20" x2="483.32" y2="311.60" stroke="#444" stroke-width="0.45"/>
<line x1="485.10" y1="310.20" x2="485.10" y2="311.60" stroke="#444" stroke-width="0.45"/>
<line x1="486.63" y1="310.20" x2="486.63" y2="311.60" stroke="#444" stroke-width="0.45"/>
<line x1="487.99" y1="310.20" x2="487.99" y2="311.60" stroke="#444" stroke-width="0.45"/>
<line x1="489.20" y1="310.20" x2="489.20" y2="313.00" stroke="#333" stroke-width="0.70"/>
<text stroke="#2e2e2e" stroke-width="0.20" x="485.72" y="320.37" font-size="4.84" fill="#2e2e2e">10</text>
<text stroke="#2e2e2e" stroke-width="0.20" x="491.43" y="318.20" font-size="3.48" fill="#2e2e2e">3</text>
<line x1="497.18" y1="310.20" x2="497.18" y2="311.60" stroke="#444" stroke-width="0.45"/>
<line x1="501.84" y1="310.20" x2="501.84" y2="311.60" stroke="#444" stroke-width="0.45"/>
<line x1="505.15" y1="310.20" x2="505.15" y2="311.60" stroke="#444" stroke-width="0.45"/>
<line x1="507.72" y1="310.20" x2="507.72" y2="311.60" stroke="#444" stroke-width="0.45"/>
<line x1="509.82" y1="310.20" x2="509.82" y2="311.60" stroke="#444" stroke-width="0.45"/>
<line x1="511.60" y1="310.20" x2="511.60" y2="311.60" stroke="#444" stroke-width="0.45"/>
<line x1="513.13" y1="310.20" x2="513.13" y2="311.60" stroke="#444" stroke-width="0.45"/>
<line x1="514.49" y1="310.20" x2="514.49" y2="311.60" stroke="#444" stroke-width="0.45"/>
<line x1="515.70" y1="310.20" x2="515.70" y2="313.00" stroke="#333" stroke-width="0.70"/>
<text stroke="#2e2e2e" stroke-width="0.20" x="512.22" y="320.37" font-size="4.84" fill="#2e2e2e">10</text>
<text stroke="#2e2e2e" stroke-width="0.20" x="517.95" y="318.20" font-size="3.48" fill="#2e2e2e">4</text>
<text stroke="#2e2e2e" stroke-width="0.20" x="456.03" y="325.26" font-size="4.40" fill="#2e2e2e">Yo-pro</text>
<text stroke="#2e2e2e" stroke-width="0.20" transform="translate(394.87 266.75) rotate(-90)" font-size="4.40" fill="#2e2e2e" textLength="18.39" lengthAdjust="spacingAndGlyphs">% of Max</text>
<line x1="409.70" y1="216.80" x2="516.00" y2="216.80" stroke="#111" stroke-width="1.50"/>
<line x1="410.60" y1="214.40" x2="410.60" y2="220.40" stroke="#111" stroke-width="1.90"/>
<line x1="445.80" y1="214.40" x2="445.80" y2="220.40" stroke="#111" stroke-width="1.90"/>
<line x1="515.10" y1="214.40" x2="515.10" y2="220.40" stroke="#111" stroke-width="1.90"/>
<text stroke="#2e2e2e" stroke-width="0.20" x="411.39" y="213.77" font-size="4.40" fill="#2e2e2e" textLength="14.41" lengthAdjust="spacingAndGlyphs">FL1-lo</text>
<text stroke="#2e2e2e" stroke-width="0.20" x="489.01" y="214.19" font-size="4.40" fill="#2e2e2e" textLength="17.21" lengthAdjust="spacingAndGlyphs">FL1-hi</text>
<text x="436.61" y="241.00" font-size="5.80" font-weight="bold" fill="#222" stroke="#222" stroke-width="0.17">A</text>
<line x1="436.80" y1="241.60" x2="425.80" y2="249.80" stroke="#111" stroke-width="1.15"/>
<text x="432.69" y="263.60" font-size="5.60" font-weight="bold" fill="#222" stroke="#222" stroke-width="0.17">control</text>
<line x1="432.40" y1="264.40" x2="427.30" y2="271.40" stroke="#111" stroke-width="1.15"/>
<text x="500.23" y="244.66" font-size="5.40" font-weight="bold" fill="#222" stroke="#222" stroke-width="0.16">A+C</text>
<line x1="499.20" y1="245.20" x2="493.80" y2="250.30" stroke="#111" stroke-width="1.15"/>
<text x="501.64" y="294.43" font-size="5.60" font-weight="bold" fill="#222" stroke="#222" stroke-width="0.17">C</text>
<line x1="500.60" y1="295.80" x2="492.90" y2="300.20" stroke="#111" stroke-width="1.15"/>
<text x="450.35" y="233.30" font-size="10.50" font-weight="bold" fill="#111" stroke="#111" stroke-width="0.22">*</text>
<text x="476.30" y="233.30" font-size="10.50" font-weight="bold" fill="#111" stroke="#111" stroke-width="0.22">**</text>
<rect x="43.60" y="27.10" width="106.90" height="93.20" fill="#fff"/>
<path d="M44.00 120.00 C45.20 119.97 49.63 120.23 51.20 119.80 C52.77 119.37 52.63 119.03 53.40 117.40 C54.17 115.77 54.98 113.40 55.80 110.00 C56.62 106.60 57.37 102.67 58.30 97.00 C59.23 91.33 60.40 83.00 61.40 76.00 C62.40 69.00 63.43 61.00 64.30 55.00 C65.17 49.00 65.98 43.40 66.60 40.00 C67.22 36.60 67.50 34.93 68.00 34.60 C68.50 34.27 69.02 35.77 69.60 38.00 C70.18 40.23 70.88 44.50 71.50 48.00 C72.12 51.50 72.73 55.55 73.30 59.00 C73.87 62.45 74.38 65.87 74.90 68.70 C75.42 71.53 75.83 74.02 76.40 76.00 C76.97 77.98 77.53 80.28 78.30 80.60 C79.07 80.92 80.08 79.12 81.00 77.90 C81.92 76.68 82.88 75.90 83.80 73.30 C84.72 70.70 85.58 66.13 86.50 62.30 C87.42 58.47 88.38 54.10 89.30 50.30 C90.22 46.50 91.08 40.10 92.00 39.50 C92.92 38.90 93.88 43.98 94.80 46.70 C95.72 49.42 96.58 52.90 97.50 55.80 C98.42 58.70 99.38 60.73 100.30 64.10 C101.22 67.47 102.08 72.48 103.00 76.00 C103.92 79.52 105.00 83.13 105.80 85.20 C106.60 87.27 107.08 87.72 107.80 88.40 C108.52 89.08 109.37 89.70 110.10 89.30 C110.83 88.90 111.50 87.68 112.20 86.00 C112.90 84.32 113.48 82.90 114.30 79.20 C115.12 75.50 116.17 69.18 117.10 63.80 C118.03 58.42 119.12 51.37 119.90 46.90 C120.68 42.43 121.27 39.25 121.80 37.00 C122.33 34.75 122.67 33.23 123.10 33.40 C123.53 33.57 124.00 35.75 124.40 38.00 C124.80 40.25 124.98 42.60 125.50 46.90 C126.02 51.20 126.88 58.42 127.50 63.80 C128.12 69.18 128.73 74.98 129.20 79.20 C129.67 83.42 129.83 85.58 130.30 89.10 C130.77 92.62 131.15 97.02 132.00 100.30 C132.85 103.58 133.90 106.45 135.40 108.80 C136.90 111.15 138.65 113.00 141.00 114.40 C143.35 115.80 147.92 116.68 149.50 117.20 C151.08 117.72 150.33 117.45 150.50 117.50" fill="none" stroke="#666" stroke-width="1.05" stroke-linejoin="round" stroke-linecap="round"/>
<path d="M44.00 120.00 C44.73 119.93 47.30 119.90 48.40 119.60 C49.50 119.30 49.93 118.87 50.60 118.20 C51.27 117.53 51.80 116.97 52.40 115.60 C53.00 114.23 53.63 112.60 54.20 110.00 C54.77 107.40 55.25 104.00 55.80 100.00 C56.35 96.00 57.00 90.00 57.50 86.00 C58.00 82.00 58.18 81.17 58.80 76.00 C59.42 70.83 60.35 61.00 61.20 55.00 C62.05 49.00 63.18 43.50 63.90 40.00 C64.62 36.50 65.00 34.00 65.50 34.00 C66.00 34.00 66.38 36.50 66.90 40.00 C67.42 43.50 68.02 49.33 68.60 55.00 C69.18 60.67 69.90 68.83 70.40 74.00 C70.90 79.17 71.27 82.00 71.60 86.00 C71.93 90.00 72.07 94.33 72.40 98.00 C72.73 101.67 73.08 105.50 73.60 108.00 C74.12 110.50 74.60 111.70 75.50 113.00 C76.40 114.30 77.42 115.17 79.00 115.80 C80.58 116.43 81.50 116.52 85.00 116.80 C88.50 117.08 89.17 117.20 100.00 117.50 C110.83 117.80 141.67 118.42 150.00 118.60" fill="none" stroke="#7a7a7a" stroke-width="1.05" stroke-linejoin="round" stroke-linecap="round"/>
<path d="M44.00 120.00 C44.87 119.93 47.97 119.93 49.20 119.60 C50.43 119.27 50.70 118.77 51.40 118.00 C52.10 117.23 52.73 116.50 53.40 115.00 C54.07 113.50 54.77 111.50 55.40 109.00 C56.03 106.50 56.53 103.83 57.20 100.00 C57.87 96.17 58.83 90.00 59.40 86.00 C59.97 82.00 59.97 81.17 60.60 76.00 C61.23 70.83 62.27 61.00 63.20 55.00 C64.13 49.00 65.47 43.50 66.20 40.00 C66.93 36.50 67.17 34.00 67.60 34.00 C68.03 34.00 68.30 36.50 68.80 40.00 C69.30 43.50 69.97 49.33 70.60 55.00 C71.23 60.67 72.00 68.83 72.60 74.00 C73.20 79.17 73.70 82.00 74.20 86.00 C74.70 90.00 75.03 94.50 75.60 98.00 C76.17 101.50 76.78 104.67 77.60 107.00 C78.42 109.33 79.43 110.67 80.50 112.00 C81.57 113.33 82.42 114.27 84.00 115.00 C85.58 115.73 85.67 116.02 90.00 116.40 C94.33 116.78 100.00 116.90 110.00 117.30 C120.00 117.70 143.33 118.55 150.00 118.80" fill="none" stroke="#6e6e6e" stroke-width="1.10" stroke-linejoin="round" stroke-linecap="round"/>
<path d="M44.00 120.00 C44.97 119.93 48.47 119.97 49.80 119.60 C51.13 119.23 51.27 118.73 52.00 117.80 C52.73 116.87 53.47 115.97 54.20 114.00 C54.93 112.03 55.67 109.33 56.40 106.00 C57.13 102.67 57.90 98.33 58.60 94.00 C59.30 89.67 60.07 84.00 60.60 80.00 C61.13 76.00 61.20 75.00 61.80 70.00 C62.40 65.00 63.28 55.67 64.20 50.00 C65.12 44.33 66.50 38.67 67.30 36.00 C68.10 33.33 68.57 33.33 69.00 34.00 C69.43 34.67 69.53 36.50 69.90 40.00 C70.27 43.50 70.65 49.33 71.20 55.00 C71.75 60.67 72.60 68.83 73.20 74.00 C73.80 79.17 74.23 82.00 74.80 86.00 C75.37 90.00 75.93 94.33 76.60 98.00 C77.27 101.67 77.97 105.57 78.80 108.00 C79.63 110.43 80.40 111.43 81.60 112.60 C82.80 113.77 83.77 114.37 86.00 115.00 C88.23 115.63 91.00 116.07 95.00 116.40 C99.00 116.73 105.00 116.80 110.00 117.00 C115.00 117.20 118.33 117.37 125.00 117.60 C131.67 117.83 145.83 118.27 150.00 118.40" fill="none" stroke="#2e2e2e" stroke-width="1.00" stroke-linejoin="round" stroke-linecap="round"/>
<rect x="43.60" y="27.10" width="106.90" height="93.20" fill="none" stroke="#8a8a8a" stroke-width="0.80"/>
<line x1="41.00" y1="120.30" x2="43.60" y2="120.30" stroke="#333" stroke-width="0.70"/>
<text stroke="#2e2e2e" stroke-width="0.20" x="35.82" y="121.61" font-size="3.80" fill="#2e2e2e">0</text>
<line x1="41.00" y1="102.54" x2="43.60" y2="102.54" stroke="#333" stroke-width="0.70"/>
<text stroke="#2e2e2e" stroke-width="0.20" x="33.72" y="103.85" font-size="3.80" fill="#2e2e2e">20</text>
<line x1="41.00" y1="84.78" x2="43.60" y2="84.78" stroke="#333" stroke-width="0.70"/>
<text stroke="#2e2e2e" stroke-width="0.20" x="33.72" y="86.09" font-size="3.80" fill="#2e2e2e">40</text>
<line x1="41.00" y1="67.02" x2="43.60" y2="67.02" stroke="#333" stroke-width="0.70"/>
<text stroke="#2e2e2e" stroke-width="0.20" x="33.72" y="68.33" font-size="3.80" fill="#2e2e2e">60</text>
<line x1="41.00" y1="49.26" x2="43.60" y2="49.26" stroke="#333" stroke-width="0.70"/>
<text stroke="#2e2e2e" stroke-width="0.20" x="33.72" y="50.57" font-size="3.80" fill="#2e2e2e">80</text>
<line x1="41.00" y1="31.50" x2="43.60" y2="31.50" stroke="#333" stroke-width="0.70"/>
<text stroke="#2e2e2e" stroke-width="0.20" x="31.61" y="32.81" font-size="3.80" fill="#2e2e2e">100</text>
<line x1="42.20" y1="111.42" x2="43.60" y2="111.42" stroke="#444" stroke-width="0.50"/>
<line x1="42.20" y1="93.66" x2="43.60" y2="93.66" stroke="#444" stroke-width="0.50"/>
<line x1="42.20" y1="75.90" x2="43.60" y2="75.90" stroke="#444" stroke-width="0.50"/>
<line x1="42.20" y1="58.14" x2="43.60" y2="58.14" stroke="#444" stroke-width="0.50"/>
<line x1="42.20" y1="40.38" x2="43.60" y2="40.38" stroke="#444" stroke-width="0.50"/>
<line x1="43.60" y1="120.30" x2="43.60" y2="123.10" stroke="#333" stroke-width="0.70"/>
<text stroke="#2e2e2e" stroke-width="0.20" x="40.50" y="128.94" font-size="4.18" fill="#2e2e2e">10</text>
<text stroke="#2e2e2e" stroke-width="0.20" x="45.96" y="126.84" font-size="3.01" fill="#2e2e2e">0</text>
<line x1="51.61" y1="120.30" x2="51.61" y2="121.70" stroke="#444" stroke-width="0.45"/>
<line x1="56.29" y1="120.30" x2="56.29" y2="121.70" stroke="#444" stroke-width="0.45"/>
<line x1="59.61" y1="120.30" x2="59.61" y2="121.70" stroke="#444" stroke-width="0.45"/>
<line x1="62.19" y1="120.30" x2="62.19" y2="121.70" stroke="#444" stroke-width="0.45"/>
<line x1="64.30" y1="120.30" x2="64.30" y2="121.70" stroke="#444" stroke-width="0.45"/>
<line x1="66.08" y1="120.30" x2="66.08" y2="121.70" stroke="#444" stroke-width="0.45"/>
<line x1="67.62" y1="120.30" x2="67.62" y2="121.70" stroke="#444" stroke-width="0.45"/>
<line x1="68.98" y1="120.30" x2="68.98" y2="121.70" stroke="#444" stroke-width="0.45"/>
<line x1="70.20" y1="120.30" x2="70.20" y2="123.10" stroke="#333" stroke-width="0.70"/>
<text stroke="#2e2e2e" stroke-width="0.20" x="67.10" y="128.94" font-size="4.18" fill="#2e2e2e">10</text>
<text stroke="#2e2e2e" stroke-width="0.20" x="72.52" y="126.84" font-size="3.01" fill="#2e2e2e">1</text>
<line x1="78.21" y1="120.30" x2="78.21" y2="121.70" stroke="#444" stroke-width="0.45"/>
<line x1="82.89" y1="120.30" x2="82.89" y2="121.70" stroke="#444" stroke-width="0.45"/>
<line x1="86.21" y1="120.30" x2="86.21" y2="121.70" stroke="#444" stroke-width="0.45"/>
<line x1="88.79" y1="120.30" x2="88.79" y2="121.70" stroke="#444" stroke-width="0.45"/>
<line x1="90.90" y1="120.30" x2="90.90" y2="121.70" stroke="#444" stroke-width="0.45"/>
<line x1="92.68" y1="120.30" x2="92.68" y2="121.70" stroke="#444" stroke-width="0.45"/>
<line x1="94.22" y1="120.30" x2="94.22" y2="121.70" stroke="#444" stroke-width="0.45"/>
<line x1="95.58" y1="120.30" x2="95.58" y2="121.70" stroke="#444" stroke-width="0.45"/>
<line x1="96.80" y1="120.30" x2="96.80" y2="123.10" stroke="#333" stroke-width="0.70"/>
<text stroke="#2e2e2e" stroke-width="0.20" x="93.70" y="128.94" font-size="4.18" fill="#2e2e2e">10</text>
<text stroke="#2e2e2e" stroke-width="0.20" x="99.16" y="126.85" font-size="3.01" fill="#2e2e2e">2</text>
<line x1="104.81" y1="120.30" x2="104.81" y2="121.70" stroke="#444" stroke-width="0.45"/>
<line x1="109.49" y1="120.30" x2="109.49" y2="121.70" stroke="#444" stroke-width="0.45"/>
<line x1="112.81" y1="120.30" x2="112.81" y2="121.70" stroke="#444" stroke-width="0.45"/>
<line x1="115.39" y1="120.30" x2="115.39" y2="121.70" stroke="#444" stroke-width="0.45"/>
<line x1="117.50" y1="120.30" x2="117.50" y2="121.70" stroke="#444" stroke-width="0.45"/>
<line x1="119.28" y1="120.30" x2="119.28" y2="121.70" stroke="#444" stroke-width="0.45"/>
<line x1="120.82" y1="120.30" x2="120.82" y2="121.70" stroke="#444" stroke-width="0.45"/>
<line x1="122.18" y1="120.30" x2="122.18" y2="121.70" stroke="#444" stroke-width="0.45"/>
<line x1="123.40" y1="120.30" x2="123.40" y2="123.10" stroke="#333" stroke-width="0.70"/>
<text stroke="#2e2e2e" stroke-width="0.20" x="120.30" y="128.94" font-size="4.18" fill="#2e2e2e">10</text>
<text stroke="#2e2e2e" stroke-width="0.20" x="125.76" y="126.84" font-size="3.01" fill="#2e2e2e">3</text>
<line x1="131.41" y1="120.30" x2="131.41" y2="121.70" stroke="#444" stroke-width="0.45"/>
<line x1="136.09" y1="120.30" x2="136.09" y2="121.70" stroke="#444" stroke-width="0.45"/>
<line x1="139.41" y1="120.30" x2="139.41" y2="121.70" stroke="#444" stroke-width="0.45"/>
<line x1="141.99" y1="120.30" x2="141.99" y2="121.70" stroke="#444" stroke-width="0.45"/>
<line x1="144.10" y1="120.30" x2="144.10" y2="121.70" stroke="#444" stroke-width="0.45"/>
<line x1="145.88" y1="120.30" x2="145.88" y2="121.70" stroke="#444" stroke-width="0.45"/>
<line x1="147.42" y1="120.30" x2="147.42" y2="121.70" stroke="#444" stroke-width="0.45"/>
<line x1="148.78" y1="120.30" x2="148.78" y2="121.70" stroke="#444" stroke-width="0.45"/>
<line x1="150.00" y1="120.30" x2="150.00" y2="123.10" stroke="#333" stroke-width="0.70"/>
<text stroke="#2e2e2e" stroke-width="0.20" x="146.90" y="128.94" font-size="4.18" fill="#2e2e2e">10</text>
<text stroke="#2e2e2e" stroke-width="0.20" x="152.38" y="126.84" font-size="3.01" fill="#2e2e2e">4</text>
<text stroke="#2e2e2e" stroke-width="0.20" x="92.69" y="132.59" font-size="3.80" fill="#2e2e2e">Yo-Pro</text>
<text stroke="#2e2e2e" stroke-width="0.20" transform="translate(29.26 82.15) rotate(-90)" font-size="3.80" fill="#2e2e2e" textLength="17.68" lengthAdjust="spacingAndGlyphs">% of Max</text>
<line x1="43.60" y1="36.60" x2="150.50" y2="36.60" stroke="#111" stroke-width="1.50"/>
<line x1="44.50" y1="34.20" x2="44.50" y2="40.20" stroke="#111" stroke-width="1.90"/>
<line x1="79.70" y1="34.20" x2="79.70" y2="40.20" stroke="#111" stroke-width="1.90"/>
<line x1="149.60" y1="34.20" x2="149.60" y2="40.20" stroke="#111" stroke-width="1.90"/>
<text stroke="#2e2e2e" stroke-width="0.20" x="44.92" y="33.96" font-size="3.80" fill="#2e2e2e" textLength="13.57" lengthAdjust="spacingAndGlyphs">FL1-lo</text>
<text stroke="#2e2e2e" stroke-width="0.20" x="123.14" y="33.98" font-size="3.80" fill="#2e2e2e" textLength="16.15" lengthAdjust="spacingAndGlyphs">FL1-hi</text>
<text x="79.98" y="55.93" font-size="5.60" font-weight="bold" fill="#222" stroke="#222" stroke-width="0.17">A</text>
<line x1="80.50" y1="56.30" x2="69.80" y2="64.70" stroke="#111" stroke-width="1.15"/>
<text x="80.62" y="91.94" font-size="5.70" font-weight="bold" fill="#222" stroke="#222" stroke-width="0.17">control</text>
<line x1="82.00" y1="92.30" x2="74.00" y2="101.00" stroke="#111" stroke-width="1.15"/>
<text x="88.93" y="104.63" font-size="5.60" font-weight="bold" fill="#222" stroke="#222" stroke-width="0.17">B</text>
<line x1="88.40" y1="104.20" x2="79.60" y2="109.80" stroke="#111" stroke-width="1.15"/>
<text x="134.79" y="82.16" font-size="5.40" font-weight="bold" fill="#222" stroke="#222" stroke-width="0.16">A+B</text>
<line x1="133.30" y1="82.90" x2="128.70" y2="88.90" stroke="#111" stroke-width="1.15"/>
<text x="97.75" y="52.40" font-size="9.50" font-weight="bold" fill="#111" stroke="#111" stroke-width="0.22">*</text>
<text x="129.09" y="52.40" font-size="9.50" font-weight="bold" fill="#111" stroke="#111" stroke-width="0.22">**</text>
</svg>
</body></html>
